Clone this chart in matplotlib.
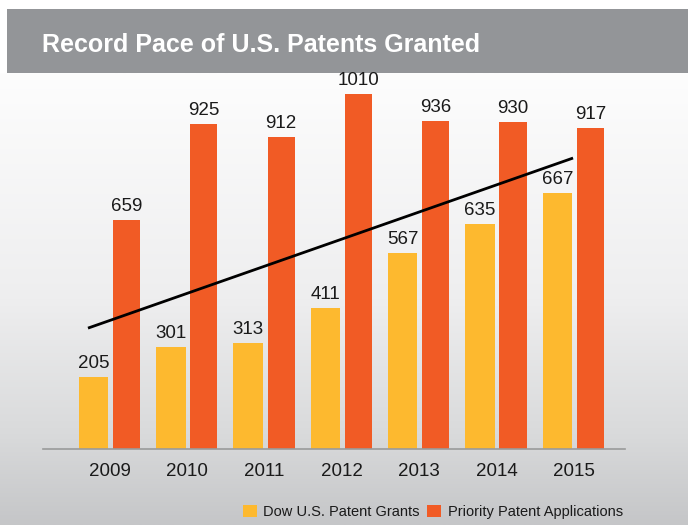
import matplotlib.pyplot as plt
import numpy as np
from matplotlib.patches import Rectangle, Patch
from matplotlib.colors import LinearSegmentedColormap

plt.rcParams['font.family'] = ['Liberation Sans', 'DejaVu Sans']

years = ["2009", "2010", "2011", "2012", "2013", "2014", "2015"]
# printed values
dow_grants = [205, 301, 313, 411, 567, 635, 667]
priority_apps = [659, 925, 912, 1010, 936, 930, 917]
# bar heights as actually drawn in the picture (not quite to scale)
dow_bar_heights = [205, 290, 302, 401, 558, 640, 728]
priority_bar_heights = [651, 925, 888, 1010, 933, 930, 913]
trend_x = [-0.285, 5.99]
trend_y = [344, 828]

yellow = "#FDB92F"
orange = "#F15B25"
W, H = 688, 525

fig = plt.figure(figsize=(W / 100, H / 100), dpi=100)
fig.patch.set_facecolor("white")

# background gradient below the header
bg = fig.add_axes([0, 0, 1, (H - 73) / H], zorder=-10)
cmap = LinearSegmentedColormap.from_list(
    "bg", [(0, "#c5c6c8"), (0.2, "#d9dadb"), (0.5, "#eeeeef"), (1, "#fdfdfd")])
grad = np.linspace(0, 1, 256).reshape(-1, 1)
bg.imshow(grad, aspect="auto", cmap=cmap, origin="lower", extent=[0, 1, 0, 1])
bg.set_axis_off()

# header band (kept under the chart axes so the 1010 label isn't covered)
fig.patches.append(Rectangle((7 / W, 1 - 73 / H), 1, 64 / H, transform=fig.transFigure,
                             facecolor="#939598", edgecolor="none", zorder=-5))
fig.text(42 / W, 1 - 45 / H, "Record Pace of U.S. Patents Granted", color="white",
         fontsize=18, fontweight="bold", va="center", ha="left")

ax = fig.add_axes([43 / W, 1 - 449 / H, (625 - 43) / W, (449 - 73) / H])
ax.set_facecolor("none")
x = np.arange(len(years))
b1 = ax.bar(x - 0.213, dow_bar_heights, width=0.38, color=yellow, zorder=2)
b2 = ax.bar(x + 0.213, priority_bar_heights, width=0.35, color=orange, zorder=2)
for bars, vals in [(b1, dow_grants), (b2, priority_apps)]:
    for r, v in zip(bars, vals):
        ax.text(r.get_x() + r.get_width() / 2, r.get_height() + 15, str(v), ha="center",
                va="bottom", fontsize=13.5, color="#1a1a1a")
ax.plot(trend_x, trend_y, color="black", lw=2, solid_capstyle="butt", zorder=3)

ax.set_xlim(-0.867, 6.662)
ax.set_ylim(0, 1070)
ax.set_xticks(x)
ax.set_xticklabels(years, fontsize=13.5, color="#1a1a1a")
ax.tick_params(axis="x", length=0, pad=10)
ax.set_yticks([])
for s in ["top", "right", "left"]:
    ax.spines[s].set_visible(False)
ax.spines["bottom"].set_color("#9a9a9a")
ax.spines["bottom"].set_linewidth(1.2)

handles = [Patch(facecolor=yellow, label="Dow U.S. Patent Grants"),
           Patch(facecolor=orange, label="Priority Patent Applications")]
fig.legend(handles=handles, loc="center right", bbox_to_anchor=(630 / W, 1 - 512 / H),
           ncol=2, frameon=False, fontsize=10.5, handlelength=0.95, handleheight=0.95,
           handletextpad=0.45, columnspacing=0.5, borderpad=0, labelcolor="#1a1a1a")

fig.savefig("out.png", dpi=100)
